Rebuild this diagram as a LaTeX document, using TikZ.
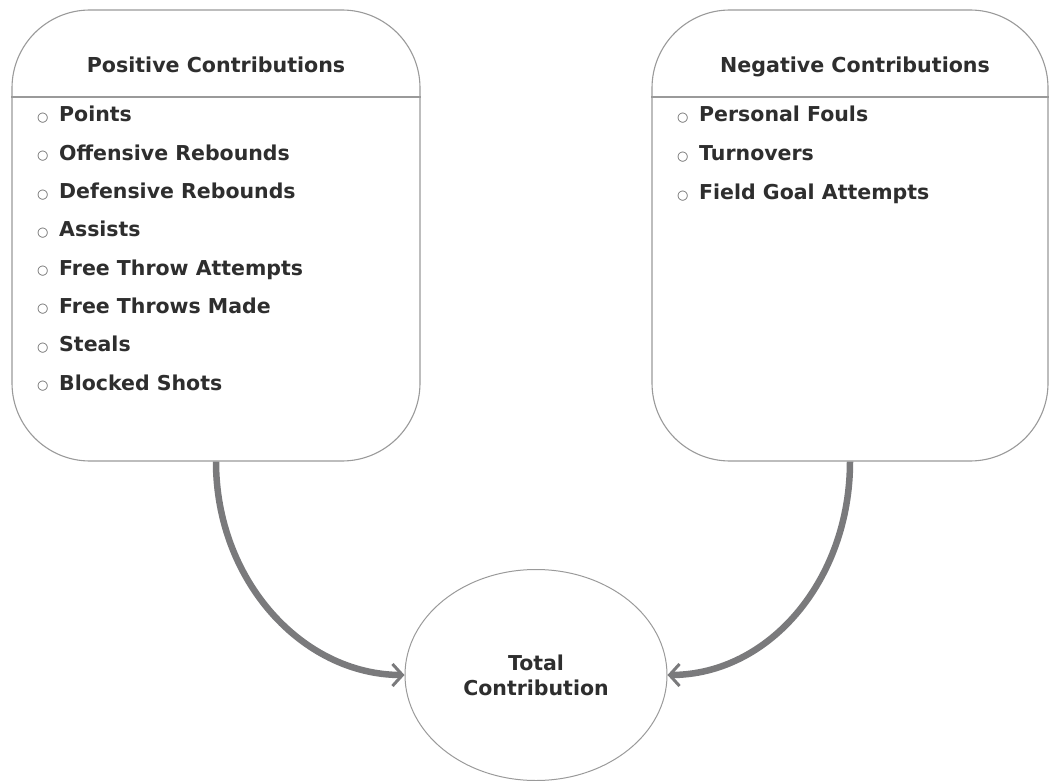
\documentclass[tikz,border=0pt]{standalone}
\usepackage{fontspec}
\setmainfont{DejaVu Sans}
\usetikzlibrary{shapes.geometric,arrows.meta}
\definecolor{edgegray}{HTML}{9A9A9A}
\definecolor{arrowgray}{HTML}{7A7A7C}
\definecolor{textdark}{HTML}{2E2E2E}
\newcommand{\bul}{\makebox[22pt][l]{\raisebox{0.5pt}{\fontsize{13}{13}\selectfont\color{textdark!75}○}}}
\newcommand{\itm}[1]{\hbox{\bul #1}}
\begin{document}
\begin{tikzpicture}[x=1pt,y=-1pt,
  panel/.style={draw=edgegray,line width=1.1pt,rounded corners=78pt,fill=white,minimum height=451pt,inner sep=0pt},
  titletext/.style={font=\bfseries\fontsize{20.6}{24}\selectfont,text=textdark,anchor=base,inner sep=0pt},
  listtext/.style={font=\bfseries\fontsize{20.5}{24}\selectfont,text=textdark,anchor=base west,inner sep=0pt},
  total/.style={ellipse,draw=edgegray,line width=1pt,minimum width=262pt,minimum height=211pt,inner sep=0pt,font=\bfseries\fontsize{20.5}{25}\selectfont,text=textdark,align=center},
  flow/.style={draw=arrowgray,line width=6.5pt,-{Straight Barb[length=10pt,width=22pt,line width=3pt]}}
]
\useasboundingbox (0,0) rectangle (1049,781);
\node[panel,minimum width=408pt] (pos) at (216,235.5) {};
\node[panel,minimum width=396pt] (neg) at (850,235.5) {};
\draw[edgegray,line width=1.1pt] (pos.west |- 0,97) -- (pos.east |- 0,97);
\draw[edgegray,line width=1.1pt] (neg.west |- 0,97) -- (neg.east |- 0,97);
\node[titletext] (post) at (216,73) {Positive Contributions};
\node[titletext] (negt) at (855,73) {Negative Contributions};
\node[listtext] (posl) at (37,122) {\vtop{\baselineskip=38.3pt\itm{Points}\itm{Offensive Rebounds}\itm{Defensive Rebounds}\itm{Assists}\itm{Free Throw Attempts}\itm{Free Throws Made}\itm{Steals}\itm{Blocked Shots}}};
\node[listtext] (negl) at (677,122) {\vtop{\baselineskip=38.8pt\itm{Personal Fouls}\itm{Turnovers}\itm{Field Goal Attempts}}};
\node[total] (tot) at (536,675) {Total\\Contribution};
\draw[flow] (pos.south) .. controls +(0,119) and +(-102,0) .. (tot.west);
\draw[flow] (neg.south) .. controls +(0,118) and +(102,0) .. (tot.east);
\end{tikzpicture}
\end{document}
